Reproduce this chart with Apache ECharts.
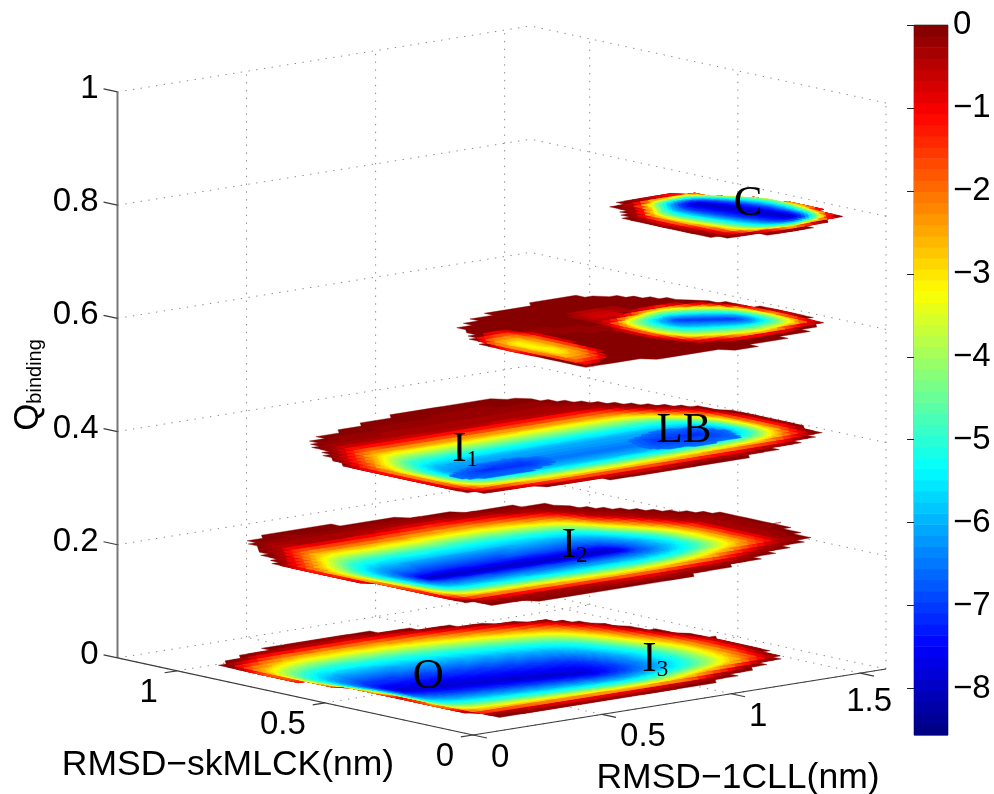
<!DOCTYPE html>
<html><head><meta charset="utf-8">
<style>html,body{margin:0;padding:0;background:#fff}#c{width:994px;height:794px}</style>
<script src="https://cdn.jsdelivr.net/npm/echarts@6/dist/echarts.min.js"></script>
</head><body><div id="c"></div>
<script>
// ---- axis ticks
const xTicks=[0,0.5,1,1.5], yTicks=[0,0.5,1], zTicks=[0,0.2,0.4,0.6,0.8,1];
const xMax=1.6, yMax=1.2, zMax=1;
const cbarTicks=[0,-1,-2,-3,-4,-5,-6,-7,-8], cbarMin=-8.56, cbarBins=64;
const xTitle='RMSD\u22121CLL(nm)', yTitle='RMSD\u2212skMLCK(nm)';
// ---- free-energy contours: outline in nm, well axis, rim and level/fraction profile
const q00Outline=[[.168,.998],[.349,1.053],[.541,1.086],[.728,1.090],[.913,1.048],[1.123,.992],[1.350,.924],[1.424,.829],[1.486,.680],[1.545,.534],[1.530,.388],[1.500,.267],[1.362,.215],[1.082,.130],[.838,.116],[.515,.105],[.236,.128],[.212,.253],[.224,.448],[.193,.623],[.151,.760],[.144,.889]];
const q00Well=[[.300,.508],[.877,.403]];
const q00Rim=[.04,.02,.05,.05,.02,0,0,0,0,0,0,.03,.06,.1,.12,.12,.08,-.02,-.06,-.06,-.03,0];
const q00Levels=[0,-1,-2,-3,-4,-5,-6,-7,-7.9];
const q00Fracs=[0,.07,.14,.23,.32,.42,.57,.77,1];

const q02Outline=[[.336,1.042],[.464,1.085],[.632,1.071],[.901,1.038],[1.131,.999],[1.352,.966],[1.435,.866],[1.556,.741],[1.694,.6],[1.695,.450],[1.607,.272],[1.466,.224],[1.260,.153],[.878,.087],[.492,.085],[.215,.124],[.179,.224],[.173,.431],[.151,.601],[.140,.763],[.245,.930]];
const q02Well=[[.355,.455],[1.035,.439]];
const q02Rim=[.12,.2,.17,.08,.08,.12,.15,.15,.2,.2,.1,.1,.1,.14,.2,.15,0,-.08,-.08,0,.1];
const q02Levels=[0,-1,-2,-3,-4,-5,-6,-7,-8];
const q02Fracs=[0,.1,.2,.3,.4,.5,.66,.86,1];

const q04Outline=[[.324,.829],[.427,.872],[.753,.943],[.949,.973],[1.216,.942],[1.368,.766],[1.547,.605],[1.593,.466],[1.599,.306],[1.547,.184],[1.393,.127],[1.140,.072],[.779,.054],[.482,.089],[.168,.136],[.147,.227],[.141,.386],[.144,.540],[.210,.669]];
const q04Well=[[.370,.332],[1.307,.338]];
const q04Rim=[.12,.2,.3,.33,.3,.12,.05,.05,.05,.05,.05,.12,.1,0,0,-.03,-.05,-.03,.05];
const q04Levels=[0,-1,-2,-3,-4,-5,-6,-6.5];
const q04Fracs=[0,.12,.24,.35,.46,.58,.76,1];
const q04I1Outline=[[.273,.332],[.431,.386],[.592,.408],[.702,.369],[.674,.293],[.504,.246],[.343,.241],[.265,.275]];
const q04I1Well=[[.424,.329],[.575,.325]];
const q04LBOutline=[[1.035,.388],[1.194,.442],[1.334,.430],[1.382,.337],[1.344,.252],[1.183,.230],[1.042,.243],[.985,.295]];
const q04LBWell=[[1.123,.347],[1.274,.344]];
const q04WellLevels=[-6.5,-7.1];
const q04WellFracs=[0,1];

const q06Outline=[[.679,.629],[.803,.690],[.912,.714],[1.091,.738],[1.264,.736],[1.415,.608],[1.516,.480],[1.566,.325],[1.536,.156],[1.369,.092],[1.097,.034],[.869,.071],[.687,.078],[.548,.090],[.551,.197],[.525,.339],[.563,.470],[.653,.599]];
const q06Axis=[[.8,.5],[1.1,.35]];
const q06Levels=[0,-.15];
const q06Fracs=[0,1];
const q06PocketOutline=[[.608,.519],[.734,.547],[.782,.469],[.768,.338],[.748,.226],[.682,.144],[.559,.099],[.562,.206],[.534,.349],[.567,.468]];
const q06PocketWell=[[.627,.382],[.639,.297]];
const q06PocketLevels=[-.6,-1,-2,-3,-3.2];
const q06PocketFracs=[0,.12,.35,.8,1];
const q06BridgeOutline=[[1.061,.618],[1.211,.629],[1.253,.572],[1.080,.434],[1.005,.450],[.995,.536]];
const q06BridgeWell=[[1.110,.539],[1.144,.518]];
const q06BridgeLevels=[-.15,-.8];
const q06BridgeFracs=[0,1];
const q06WellOutline=[[1.026,.468],[1.201,.527],[1.353,.554],[1.467,.512],[1.539,.419],[1.560,.297],[1.529,.161],[1.354,.117],[1.179,.106],[1.032,.153],[.981,.264],[.992,.381]];
const q06Well=[[1.238,.379],[1.370,.310]];
const q06WellLevels=[-.3,-1,-2,-3,-4,-5,-6,-7];
const q06WellFracs=[0,.12,.22,.3,.42,.58,.75,1];

const q08Outline=[[1.096,.482],[1.179,.507],[1.354,.504],[1.392,.480],[1.416,.433],[1.506,.344],[1.515,.260],[1.526,.191],[1.493,.071],[1.356,.020],[1.224,-.004],[1.070,.031],[.995,.049],[.978,.231],[.993,.346],[1.075,.433]];
const q08Well=[[1.311,.376],[1.388,.139]];
const q08Rim=[.15,.1,-.1,-.3,-.5,-.7,-.6,-.2,0,.1,.1,.1,.1,.05,.1,.15];
const q08Levels=[0,-1,-2,-3,-4,-5,-6,-7,-8];
const q08Fracs=[0,.13,.22,.3,.38,.48,.6,.74,1];

const stateNames=['O','I3','I2','I1','LB','C'];
const stateX=[.497,1.178,1.007,.585,1.27,1.418];
const stateY=[.584,.411,.534,.536,.394,.307];
const stateZ=[0,0,.2,.4,.4,.8];

const basins=[
 {z:0,outline:q00Outline,well:q00Well,rim:q00Rim,levels:q00Levels,fracs:q00Fracs},
 {z:.2,outline:q02Outline,well:q02Well,rim:q02Rim,levels:q02Levels,fracs:q02Fracs},
 {z:.4,outline:q04Outline,well:q04Well,rim:q04Rim,levels:q04Levels,fracs:q04Fracs},
 {z:.4,outline:q04I1Outline,well:q04I1Well,levels:q04WellLevels,fracs:q04WellFracs},
 {z:.4,outline:q04LBOutline,well:q04LBWell,levels:q04WellLevels,fracs:q04WellFracs},
 {z:.6,outline:q06Outline,well:q06Axis,levels:q06Levels,fracs:q06Fracs},
 {z:.6,outline:q06PocketOutline,well:q06PocketWell,levels:q06PocketLevels,fracs:q06PocketFracs},
 {z:.6,outline:q06BridgeOutline,well:q06BridgeWell,levels:q06BridgeLevels,fracs:q06BridgeFracs},
 {z:.6,outline:q06WellOutline,well:q06Well,levels:q06WellLevels,fracs:q06WellFracs},
 {z:.8,outline:q08Outline,well:q08Well,rim:q08Rim,levels:q08Levels,fracs:q08Fracs}
];

// ---- oblique view of the box onto the page plane
const view={ox:473,oy:735,xx:258.1,xy:-41.25,yx:-296.25,yy:-64.2,zy:-566};
function project(x,y,z){return [view.ox+view.xx*x+view.yx*y, view.oy+view.xy*x+view.yy*y+view.zy*z];}

// ---- jet colormap
function clamp01(v){return Math.max(0,Math.min(1,v));}
function jet(i){const t=(i+.5)/cbarBins;const c=d=>Math.round(255*clamp01(1.5-Math.abs(4*t-d)));return 'rgb('+c(3)+','+c(2)+','+c(1)+')';}
const binW=-cbarMin/cbarBins;

function profile(b,level){
  const L=b.levels,F=b.fracs;
  if(level>=L[0])return F[0];
  for(let i=1;i<L.length;i++){ if(level>=L[i]) return F[i-1]+(F[i]-F[i-1])*(L[i-1]-level)/(L[i-1]-L[i]); }
  return F[F.length-1];
}
function samples(b){
  if(b.pts)return b.pts;
  const out=[],O=b.outline,n=O.length,[A,B]=b.well;
  const dx=B[0]-A[0],dy=B[1]-A[1],dd=dx*dx+dy*dy||1;
  for(let i=0;i<n;i++){
    const P=O[i],Q=O[(i+1)%n];
    const len=Math.hypot(Q[0]-P[0],Q[1]-P[1]);
    const k=Math.max(1,Math.ceil(len/.012));
    const r0=b.rim?b.rim[i]:0,r1=b.rim?b.rim[(i+1)%n]:0;
    for(let s=0;s<k;s++){
      const t=s/k,x=P[0]+(Q[0]-P[0])*t,y=P[1]+(Q[1]-P[1])*t;
      const u=clamp01(((x-A[0])*dx+(y-A[1])*dy)/dd);
      out.push({x,y,r:r0+(r1-r0)*t,sx:A[0]+u*dx,sy:A[1]+u*dy});
    }
  }
  b.pts=out;return out;
}
function ring(b,level){
  const f=profile(b,level),f4=profile(b,-.4),S=samples(b),N=S.length;
  const q=level>-2.6?.03:.014;
  const X=new Array(N),Y=new Array(N);
  S.forEach((s,i)=>{
    let F;
    if(!b.rim)F=f;
    else if(level>=-.4)F=Math.max(0,s.r+(1-s.r)*f4)*(level/-.4);
    else F=s.r+(1-s.r)*f;
    F=clamp01(F);
    X[i]=s.x+(s.sx-s.x)*F;Y[i]=s.y+(s.sy-s.y)*F;
  });
  // inner contours are rounder than the rim
  const h=Math.round(N*.07*f);
  const pts=[];let lx=null,ly=null;
  for(let i=0;i<N;i++){
    let sx=0,sy=0;
    for(let j=-h;j<=h;j++){const m=(i+j+N)%N;sx+=X[m];sy+=Y[m];}
    const x=Math.round(sx/(2*h+1)/q)*q,y=Math.round(sy/(2*h+1)/q)*q;
    if(x!==lx||y!==ly){pts.push(project(x,y,b.z));lx=x;ly=y;}
  }
  return pts;
}

// ---- line work built from the ticks
const dotted=[];
zTicks.forEach(z=>{dotted.push([0,yMax,z,xMax,yMax,z]);dotted.push([xMax,0,z,xMax,yMax,z]);});
xTicks.slice(1).forEach(x=>{dotted.push([x,yMax,0,x,yMax,zMax]);});
yTicks.forEach(y=>{dotted.push([xMax,y,0,xMax,y,zMax]);});
xTicks.forEach(x=>dotted.push([x,0,0,x,yMax,0]));
yTicks.forEach(y=>dotted.push([0,y,0,xMax,y,0]));
const tickLen=.047;
const solid=[[0,0,0,xMax,0,0],[0,0,0,0,yMax,0]];
xTicks.forEach(x=>solid.push([x,0,0,x,-tickLen,0]));
yTicks.forEach(y=>solid.push([0,y,0,-tickLen,y,0]));
zTicks.forEach(z=>solid.push([0,yMax,z,0,yMax+tickLen,z]));

const FONT='"Liberation Sans",Arial,sans-serif';
function lineItem(rows,style){
  return (p,api)=>{const r=rows[p.dataIndex];
    const a=api.coord(project(r[0],r[1],r[2])),b=api.coord(project(r[3],r[4],r[5]));
    return {type:'line',shape:{x1:a[0],y1:a[1],x2:b[0],y2:b[1]},style:style};};
}
const idx=a=>a.map((_,i)=>i);
const base={type:'custom',coordinateSystem:'cartesian2d',xAxisIndex:0,yAxisIndex:0,clip:false,silent:true,animation:false};

// tick labels
const tickTexts=[];
zTicks.forEach(z=>{const p=project(0,yMax,z);tickTexts.push({t:String(z),x:p[0]-19,y:p[1]-3,a:'right'});});
xTicks.forEach(x=>{const p=project(x,0,0);const big=x===1.5;tickTexts.push({t:String(x),x:p[0]+(big?-14:18),y:p[1]+(big?29:23),a:'left'});});
yTicks.forEach(y=>{const p=project(0,y,0);tickTexts.push({t:String(y),x:p[0]-19,y:p[1]+22,a:'right'});});

const option={
  animation:false,backgroundColor:'#fff',
  grid:[{left:0,right:0,top:0,bottom:0},{left:914,top:25,width:34,height:710,show:true,borderColor:'#777',borderWidth:1,backgroundColor:'transparent'}],
  xAxis:[{type:'value',min:0,max:994,show:false,gridIndex:0},{type:'value',min:0,max:1,show:false,gridIndex:1}],
  yAxis:[
    {type:'value',min:0,max:794,inverse:true,show:false,gridIndex:0},
    {type:'value',min:cbarMin,max:0,gridIndex:1,position:'right',splitLine:{show:false},
      axisLine:{show:false},
      axisTick:{show:true,inside:true,length:7,customValues:cbarTicks,lineStyle:{color:'#222',width:1}},
      axisLabel:{show:true,customValues:cbarTicks,margin:5,fontSize:33,fontFamily:FONT,color:'#000',align:'left',
        formatter:v=>v===0?'0':'\u2212'+Math.abs(v)}},
    {type:'value',min:cbarMin,max:0,gridIndex:1,position:'left',splitLine:{show:false},axisLine:{show:false},
      axisTick:{show:true,inside:true,length:7,customValues:cbarTicks,lineStyle:{color:'#222',width:1}},
      axisLabel:{show:false}}
  ],
  series:[
    Object.assign({},base,{name:'colorbar',xAxisIndex:1,yAxisIndex:1,z:1,data:Array.from({length:cbarBins},(_,i)=>i),
      renderItem:(p,api)=>{const i=p.dataIndex;
        const a=api.coord([0,cbarMin+i*binW]),b=api.coord([1,cbarMin+(i+1)*binW]);
        return {type:'rect',shape:{x:a[0],y:b[1],width:b[0]-a[0],height:a[1]-b[1]+.6},style:{fill:jet(i)}};}}),
    Object.assign({},base,{name:'walls',z:2,data:idx(dotted),
      renderItem:lineItem(dotted,{stroke:'#8c8c8c',lineWidth:1,lineDash:[1.4,6.4]})}),
    Object.assign({},base,{name:'zAxis',z:3,data:[0],
      renderItem:lineItem([[0,yMax,0,0,yMax,zMax]],{stroke:'#777',lineWidth:2})}),
    Object.assign({},base,{name:'axes',z:3,data:idx(solid),
      renderItem:lineItem(solid,{stroke:'#3c3c3c',lineWidth:1.2})}),
    Object.assign({},base,{name:'free energy',z:4,data:idx(basins),
      renderItem:(p,api)=>{
        const b=basins[p.dataIndex],children=[];
        const top=b.levels[0],deep=b.levels[b.levels.length-1];
        for(let k=Math.ceil(-top/binW-1e-9);k<cbarBins;k++){
          const level=-k*binW;
          if(level<deep)break;
          const pts=ring(b,level).map(q=>api.coord(q));
          children.push({type:'polygon',shape:{points:pts},style:{fill:jet(cbarBins-1-k),stroke:jet(cbarBins-1-k),lineWidth:.4}});
        }
        return {type:'group',children};
      }}),
    Object.assign({},base,{name:'tick labels',z:5,data:idx(tickTexts),
      renderItem:(p,api)=>{const t=tickTexts[p.dataIndex],c=api.coord([t.x,t.y]);
        return {type:'text',style:{text:t.t,x:c[0],y:c[1],align:t.a,verticalAlign:'middle',fill:'#000',fontSize:33,fontFamily:FONT}};}}),
    Object.assign({},base,{name:'axis titles',z:5,data:[0,1,2],
      renderItem:(p,api)=>{
        if(p.dataIndex===2){const c=api.coord([28,385]);
          return {type:'text',x:c[0],y:c[1],rotation:Math.PI/2,style:{text:'{q|Q}{s|binding}',x:0,y:0,align:'center',verticalAlign:'middle',fill:'#000',
            rich:{q:{fontSize:35,fontFamily:FONT,verticalAlign:'bottom'},s:{fontSize:20,fontFamily:FONT,verticalAlign:'bottom'}}}};}
        const c=api.coord(p.dataIndex===0?[228,765]:[738,778]);
        return {type:'text',style:{text:p.dataIndex===0?yTitle:xTitle,x:c[0],y:c[1],align:'center',verticalAlign:'middle',fill:'#000',fontSize:35.5,fontFamily:FONT}};
      }}),
    Object.assign({},base,{name:'states',z:6,data:idx(stateNames),
      renderItem:(p,api)=>{const i=p.dataIndex,c=api.coord(project(stateX[i],stateY[i],stateZ[i])),n=stateNames[i];
        const hasSub=/\d/.test(n);
        const text=hasSub?'{m|'+n[0]+'}{s|'+n[1]+'}':'{m|'+n+'}';
        return {type:'text',style:{text:text,x:c[0],y:c[1],align:'center',verticalAlign:'middle',fill:'#000',
          rich:{m:{fontSize:43,fontFamily:'"Liberation Serif",serif',verticalAlign:'bottom'},s:{fontSize:23,fontFamily:'"Liberation Serif",serif',verticalAlign:'bottom'}}}};}})
  ]
};
echarts.init(document.getElementById('c'),null,{renderer:'canvas'}).setOption(option);
</script></body></html>
